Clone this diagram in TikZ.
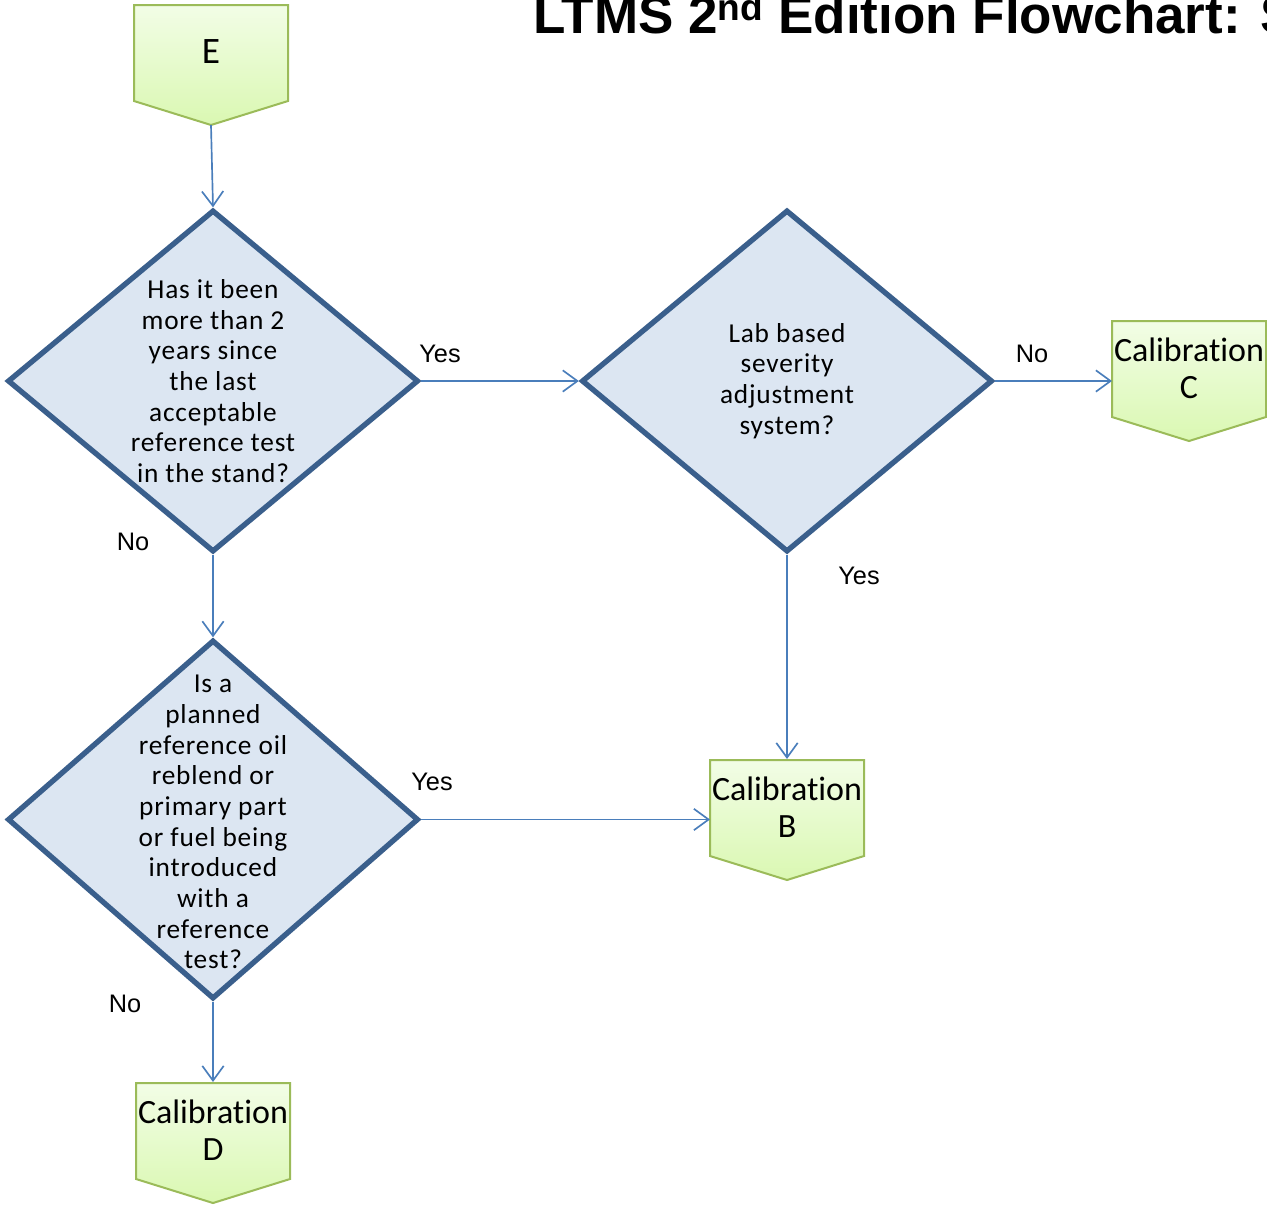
\documentclass[tikz,border=0pt]{standalone}
\usepackage{fontspec}
\setmainfont{Liberation Sans}
\newfontfamily\boxfont{Carlito}[Ligatures=NoCommon]
\newfontfamily\qfont{Carlito}[Ligatures=NoCommon, LetterSpace=3]
\usetikzlibrary{arrows.meta,shapes.geometric,backgrounds}

\definecolor{flowblue}{HTML}{4A7EBB}
\definecolor{decborder}{HTML}{3A5F8C}
\definecolor{decfill}{HTML}{DCE6F2}
\definecolor{termborder}{HTML}{9BBB59}
\definecolor{termtop}{HTML}{F2FDE6}
\definecolor{termbottom}{HTML}{DAF8B2}

\tikzset{
  decision/.style={diamond, draw=decborder, fill=decfill, line width=4pt,
    line join=miter, inner sep=0pt, minimum width=308.25pt},
  qtext/.style={align=center, inner sep=0pt,
    font=\qfont\fontsize{20.5pt}{23pt}\selectfont},
  pentshape/.style={draw=termborder, line width=1.5pt, top color=termtop,
    bottom color=termbottom},
  penttext/.style={rectangle, inner sep=0pt, outer sep=0pt,
    minimum width=115.5pt, minimum height=72pt, align=center,
    font=\boxfont\fontsize{25.5pt}{27.75pt}\selectfont},
  flow/.style={draw=flowblue, line width=1.25pt,
    -{Straight Barb[length=11pt, width=16pt, line width=1.25pt]}},
  answer/.style={inner sep=0pt, font=\fontsize{19pt}{22pt}\selectfont},
}

% off-page connector: name, centre x, top y, text
\newcommand\pentabox[4]{%
  \path[pentshape] (#2-77,#3) -- (#2+77,#3) -- (#2+77,#3+96)
    -- (#2,#3+120) -- (#2-77,#3+96) -- cycle;
  \coordinate (#1-tip) at (#2,#3+120);
  \node[penttext] (#1) at (#2,#3+47) {#4};}

\begin{document}
\begin{tikzpicture}[x=0.75pt, y=-0.75pt]
\useasboundingbox (0,0) rectangle (1267,1204);

% title
\node[anchor=base west, inner sep=0pt,
  font=\fontsize{39.75pt}{44pt}\selectfont\bfseries] (title) at (533,33)
  {LTMS 2\textsuperscript{nd} Edition Flowchart: S};

% off-page connectors
\pentabox{E}{211}{5}{\fontsize{28pt}{30pt}\selectfont E}
\pentabox{calC}{1189}{321}{Calibration\\C}
\pentabox{calB}{787}{760}{Calibration\\B}
\pentabox{calD}{213}{1083}{Calibration\\D}

% decisions
\node[decision, minimum height=256.5pt] (d1) at (213,381) {};
\node[qtext] (t1) at (d1.center) {Has it been\\more than 2\\years since\\the last\\acceptable\\reference test\\in the stand?};

\node[decision, minimum height=256.5pt] (d2) at (787,381) {};
\node[qtext] (t2) at (d2.center) {Lab based\\severity\\adjustment\\system?};

\node[decision, minimum height=269.25pt] (d3) at (213,819.5) {};
\node[qtext] (t3) at ([yshift=-2pt]d3.center) {Is a\\planned\\reference oil\\reblend or\\primary part\\or fuel being\\introduced\\with a\\reference\\test?};

% connectors
\draw[flow] (E-tip) -- (d1.north);
\draw[flow] (d1.east) -- (d2.west);
\draw[flow] (d2.east) -- (d2.east -| calC.west);
\draw[flow] (d2.south) -- (calB.north);
\draw[flow] (d1.south) -- (d3.north);
\draw[flow] (d3.east) -- (d3.east -| calB.west);
\draw[flow] (d3.south) -- (calD.north);

% branch answers
\node[answer] (a1) at (440,354) {Yes};
\node[answer] (a2) at (1032,354) {No};
\node[answer] (a3) at (859,576) {Yes};
\node[answer] (a4) at (133,542) {No};
\node[answer] (a5) at (432,782) {Yes};
\node[answer] (a6) at (125,1004) {No};
\end{tikzpicture}
\end{document}
